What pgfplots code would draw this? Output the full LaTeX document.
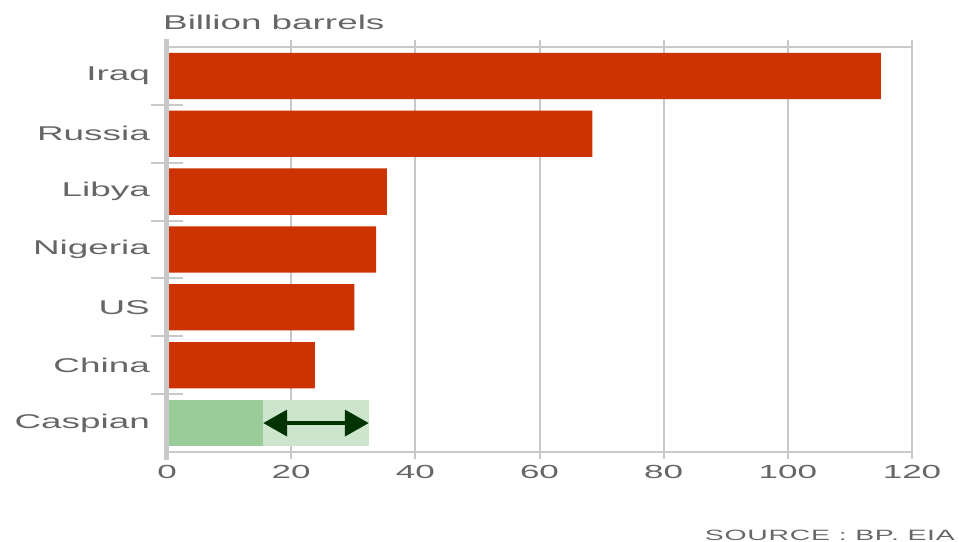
\documentclass[border=0pt]{standalone}
\usepackage{fontspec}
\setmainfont{Liberation Sans}[FakeStretch=1.85]
\newfontfamily\srcfont{Liberation Sans}[FakeStretch=1.9, LetterSpace=5]
\usepackage{graphicx}
\usepackage{pgfplots}
\pgfplotsset{compat=1.18}
\usetikzlibrary{arrows.meta}
\definecolor{barred}{HTML}{CC3300}
\definecolor{gdark}{HTML}{99CC99}
\definecolor{glight}{HTML}{CCE5CC}
\definecolor{arrowg}{HTML}{003300}
\definecolor{gridc}{HTML}{C8C8C8}
\definecolor{txt}{HTML}{666666}
\begin{document}
\begin{tikzpicture}
\useasboundingbox (-167bp,-90bp) rectangle (792bp,452bp);
\begin{axis}[
  at={(0,0)}, anchor=south west,
  scale only axis, width=745bp, height=405bp,
  xmin=0, xmax=120, ymin=-0.5, ymax=6.5,
  axis x line=box, axis y line=left,
  x axis line style={gridc, line width=2bp, -},
  y axis line style={gridc, line width=4bp, -, shorten <=-8bp, shorten >=-8bp},
  xtick={0,20,...,120},
  tick align=outside,
  major tick length=7bp,
  x tick style={gridc, line width=2bp},
  xmajorgrids=true,
  major grid style={gridc, line width=2bp},
  xticklabel pos=lower,
  /pgf/number format/assume math mode=true,
  xticklabel style={font=\fontsize{19}{22}\selectfont, text=txt, yshift=-3bp},
  ytick={0,...,6},
  yticklabels={Caspian,China,US,Nigeria,Libya,Russia,Iraq},
  y tick style={draw=none},
  yticklabel style={font=\fontsize{20}{24}\selectfont, text=txt, anchor=east, inner sep=0pt, xshift=-10bp},
  extra y ticks={0.5,1.5,2.5,3.5,4.5,5.5},
  extra y tick labels={},
  extra y tick style={tick align=center, major tick length=32bp, y tick style={draw=gridc, line width=2bp}},
  clip=false,
]
\addplot[xbar, bar width=0.8, bar shift=0pt, fill=barred, draw=none]
  coordinates {(23.8,1) (30.2,2) (33.7,3) (35.4,4) (68.5,5) (115,6)};
\addplot[xbar, bar width=0.8, bar shift=0pt, fill=glight, draw=none]
  coordinates {(32.5,0)};
\addplot[xbar, bar width=0.8, bar shift=0pt, fill=gdark, draw=none]
  coordinates {(15.5,0)};
\draw[arrowg, line width=4bp, {Triangle[length=24bp,width=26bp]}-{Triangle[length=24bp,width=26bp]}]
  (axis cs:15.5,0) -- (axis cs:32.5,0);
\draw[gridc, line width=5bp] ([yshift=-8bp]rel axis cs:0,0) -- ([yshift=8bp]rel axis cs:0,1);
\end{axis}
\node[anchor=base west, inner sep=0pt, font=\fontsize{20}{24}\selectfont, text=txt] at (-4bp,422bp) {Billion barrels};
\node[anchor=base east, inner sep=0pt, text=txt] at (788bp,-88bp) {\srcfont\fontsize{15}{18}\selectfont SOURCE : BP. EIA};
\end{tikzpicture}
\end{document}
